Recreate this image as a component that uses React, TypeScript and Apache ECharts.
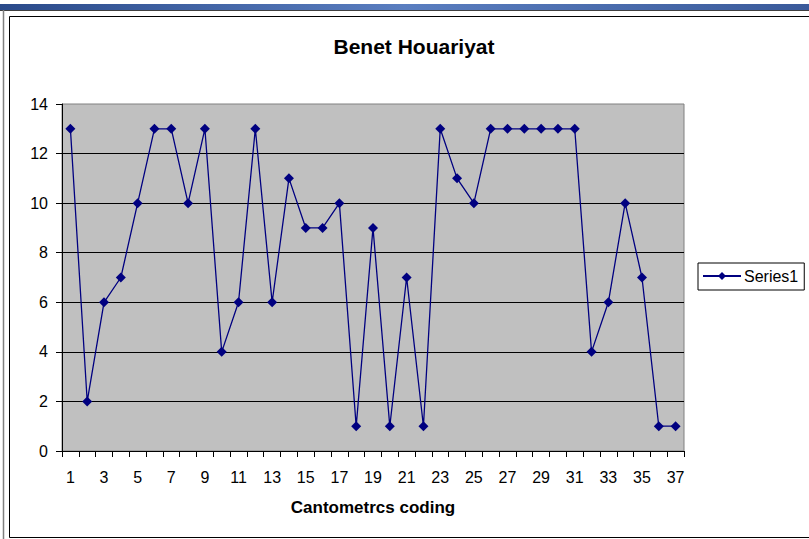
import React, { useEffect, useRef } from "react";
import * as echarts from "echarts";

const categories: string[] = Array.from({ length: 37 }, (_, i) => String(i + 1));
const series1: number[] = [13, 2, 6, 7, 10, 13, 13, 10, 13, 4, 6, 13, 6, 11, 9, 9, 10, 1, 9, 1, 7, 1, 13, 11, 10, 13, 13, 13, 13, 13, 13, 4, 6, 10, 7, 1, 1];
const titleText = "Benet Houariyat";
const xAxisName = "Cantometrcs coding";
const seriesName = "Series1";

export default function App() {
  const ref = useRef<HTMLDivElement>(null);
  useEffect(() => {
    document.body.style.margin = "0";
    const chart = echarts.init(ref.current!, undefined, { renderer: "svg" });
    const font = "'Liberation Sans', Arial, sans-serif";
    chart.setOption({
      animation: false,
      backgroundColor: "#ffffff",
      textStyle: { fontFamily: font },
      legend: {
        left: 698,
        top: 263,
        orient: "vertical",
        data: [seriesName],
        itemWidth: 38,
        itemHeight: 10,
        itemGap: 4,
        padding: [5, 6, 6, 4],
        borderColor: "#000",
        borderWidth: 1,
        textStyle: { fontFamily: font, fontSize: 16, color: "#000", padding: [0, 0, 0, -2] },
      },
      grid: {
        left: 62,
        top: 104,
        width: 622,
        height: 347,
        show: true,
        backgroundColor: "#C0C0C0",
        borderColor: "#808080",
        borderWidth: 1,
      },
      xAxis: {
        type: "category",
        data: categories,
        boundaryGap: true,
        name: xAxisName,
        nameLocation: "middle",
        nameGap: 48,
        nameTextStyle: { fontFamily: font, fontWeight: "bold", fontSize: 17, color: "#000" },
        axisLine: { lineStyle: { color: "#000", width: 1 } },
        axisTick: { show: true, alignWithLabel: false, interval: 0, length: 6, lineStyle: { color: "#000" } },
        axisLabel: { interval: 1, margin: 18, fontFamily: font, fontSize: 16, color: "#000" },
      },
      yAxis: {
        type: "value",
        min: 0,
        max: 14,
        interval: 2,
        axisLine: { show: true, lineStyle: { color: "#000", width: 1 } },
        axisTick: { show: true, length: 6, lineStyle: { color: "#000" } },
        axisLabel: { margin: 14, fontFamily: font, fontSize: 16, color: "#000" },
        splitLine: { show: true, showMaxLine: false, showMinLine: false, lineStyle: { color: "#000", width: 1 } },
      },
      series: [
        {
          name: seriesName,
          type: "line",
          data: series1,
          symbol: "diamond",
          symbolSize: 10,
          lineStyle: { color: "#000080", width: 1.3 },
          itemStyle: { color: "#000080" },
        },
      ],
      graphic: [
        {
          type: "rect",
          shape: { x: 0, y: 4, width: 809, height: 6 },
          style: {
            fill: new echarts.graphic.LinearGradient(0, 0, 1, 0, [
              { offset: 0, color: "#2a4a8a" },
              { offset: 0.5, color: "#5a7ec0" },
              { offset: 1, color: "#3a5a9a" },
            ]),
          },
          silent: true,
        },
        {
          type: "line",
          shape: { x1: 0, y1: 10.5, x2: 809, y2: 10.5 },
          style: { stroke: "#404040", lineWidth: 1 },
          silent: true,
        },
        {
          type: "line",
          shape: { x1: 3.5, y1: 10, x2: 3.5, y2: 539 },
          style: { stroke: "#808080", lineWidth: 1.5 },
          silent: true,
        },
        {
          type: "rect",
          shape: { x: 9.5, y: 16.5, width: 820, height: 521 },
          style: { fill: "none", stroke: "#000", lineWidth: 1 },
          silent: true,
        },
        {
          type: "text",
          x: 414,
          y: 46,
          style: {
            text: titleText,
            align: "center",
            verticalAlign: "middle",
            font: "bold 21px 'Liberation Sans', Arial, sans-serif",
            fill: "#000",
          },
          silent: true,
        },
      ],
    });
    return () => chart.dispose();
  }, []);
  return <div ref={ref} style={{ position: "absolute", left: 0, top: 0, width: 809, height: 539 }} />;
}
